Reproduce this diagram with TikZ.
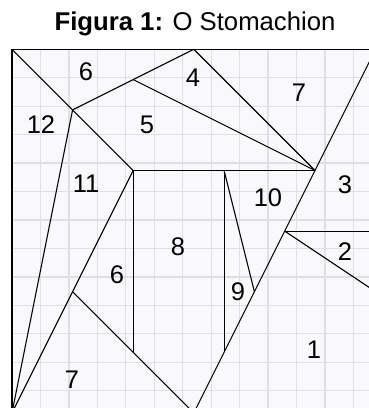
\documentclass[tikz,border=0pt]{standalone}
\usepackage{fontspec}
\setmainfont{Liberation Sans}
\definecolor{gridgray}{HTML}{E0E0E4}
\definecolor{bgcol}{HTML}{F9F9FC}
\begin{document}
\begin{tikzpicture}[x=1pt,y=-1pt,
  lbl/.style={font=\fontsize{25.5}{25.5}\selectfont, inner sep=0pt},
  ttl/.style={font=\fontsize{25.7}{25.7}\selectfont, inner sep=0pt},
  piece/.style={line width=1.1pt, black},
  gridline/.style={line width=1.3pt, gridgray},
  frame/.style={line width=1.6pt, black}]
\useasboundingbox (0,0) rectangle (369,408);
\clip (0,0) rectangle (369,408);
\fill[white] (0,0) rectangle (369,408);
\fill[bgcol] (12,49.3) rectangle (375.6,412.9);
\node[ttl] (title) at (195,24) {\textbf{Figura 1:} O Stomachion};
\begin{scope}[shift={(12,49.3)}, x=30.3pt, y=-30.3pt]
  \draw[gridline] (0,0) grid (12,12);
  \coordinate (TL) at (0,0);
  \coordinate (TR) at (12,0);
  \coordinate (BL) at (0,12);
  \coordinate (BR) at (12,12);
  \coordinate (A) at (2,2);
  \coordinate (B) at (4,1);
  \coordinate (T6) at (6,0);
  \coordinate (C) at (4,4);
  \coordinate (D) at (10,4);
  \coordinate (E) at (9,6);
  \coordinate (F) at (8,8);
  \coordinate (G) at (7,10);
  \coordinate (H) at (6,12);
  \coordinate (P) at (7,4);
  \coordinate (Q) at (2,8);
  \coordinate (R) at (4,10);
  \coordinate (S) at (12,6);
  \coordinate (U) at (12,8);
  \draw[piece] (TL) -- (A) -- (C);
  \draw[piece] (A) -- (B) -- (T6);
  \draw[piece] (B) -- (D);
  \draw[piece] (T6) -- (D);
  \draw[piece] (TR) -- (D) -- (E) -- (F) -- (G) -- (H);
  \draw[piece] (A) -- (BL);
  \draw[piece] (C) -- (Q) -- (BL);
  \draw[piece] (Q) -- (R) -- (H);
  \draw[piece] (C) -- (R);
  \draw[piece] (C) -- (P) -- (D);
  \draw[piece] (P) -- (G);
  \draw[piece] (P) -- (F);
  \draw[piece] (E) -- (S);
  \draw[piece] (E) -- (U);
  \draw[frame] (TL) -- (TR) -- (BR) -- (BL) -- cycle;
\end{scope}
\node[lbl] (l6a) at (86,72) {6};
\node[lbl] (l4) at (193,78) {4};
\node[lbl] (l7a) at (299,93) {7};
\node[lbl] (l12) at (41,125) {12};
\node[lbl] (l5) at (147,125) {5};
\node[lbl] (l11) at (86,184) {11};
\node[lbl] (l10) at (268,198) {10};
\node[lbl] (l3) at (345,185) {3};
\node[lbl] (l8) at (178,247) {8};
\node[lbl] (l6b) at (117,275) {6};
\node[lbl] (l2) at (345,252) {2};
\node[lbl] (l9) at (238,292) {9};
\node[lbl] (l1) at (314,350) {1};
\node[lbl] (l7b) at (72,380) {7};
\end{tikzpicture}
\end{document}
